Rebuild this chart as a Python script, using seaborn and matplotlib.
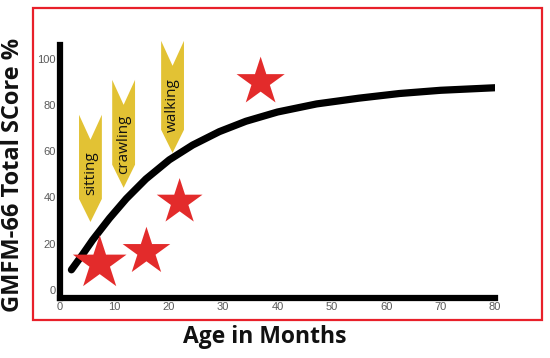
import matplotlib
matplotlib.use("Agg")
import matplotlib.pyplot as plt
import seaborn as sns
import pandas as pd
from matplotlib.patches import Rectangle

# GMFM-66 curve (age in months, score %)
curve_months = [2.1, 4.2, 6.0, 9.1, 12.2, 15.8, 20.1, 24.4, 29.3, 34.2, 40.0, 47.2, 55.0, 62.4, 70.0, 80.0]
curve_score = [8.7, 15.5, 21.6, 31.0, 39.5, 48.0, 56.3, 62.7, 68.5, 73.0, 77.0, 80.5, 83.0, 85.0, 86.4, 87.5]

# red stars
star_months = [7.3, 15.9, 22.0, 36.9]
star_score = [11.5, 16.5, 38.0, 90.0]

# milestone banners: centre month, top and tip value, text centre
milestones = ["sitting", "crawling", "walking"]
milestone_months = [5.6, 11.7, 20.7]
milestone_top = [75.8, 90.9, 107.8]
milestone_tip = [29.4, 44.2, 59.3]
milestone_text_y = [50.6, 63.2, 80.1]

x_ticks = [0, 10, 20, 30, 40, 50, 60, 70, 80]
y_ticks = [0, 20, 40, 60, 80, 100]

sns.set_theme(style="white")
plt.rcParams["font.family"] = ["Open Sans", "DejaVu Sans"]

fig = plt.figure(figsize=(5.5, 3.58), dpi=100)
ax = fig.add_axes([60 / 550, 1 - 298 / 358, 435 / 550, 253 / 358])

yellow = "#e2c234"
red = "#e32b2b"

# banners
half_w, notch, taper = 2.1, 10.8, 10.0
for name, m, top, tip, ty in zip(milestones, milestone_months, milestone_top,
                                 milestone_tip, milestone_text_y):
    xs = [m - half_w, m, m + half_w, m + half_w, m, m - half_w]
    ys = [top, top - notch, top, tip + taper, tip, tip + taper]
    ax.fill(xs, ys, color=yellow, lw=0, clip_on=False, zorder=1)
    ax.text(m, ty, name, rotation=90, ha="center", va="center", fontsize=11,
            color="#111111", zorder=2)

df = pd.DataFrame({"month": curve_months, "score": curve_score})
sns.lineplot(data=df, x="month", y="score", ax=ax, color="black", lw=5.2,
             solid_capstyle="round", solid_joinstyle="round", zorder=3)

sns.scatterplot(x=star_months, y=star_score, ax=ax, marker="*",
                s=[1650, 1300, 1200, 1330], color=red, linewidth=0, zorder=4,
                clip_on=False)

ax.set_xlim(0, 80)
ax.set_ylim(-3.5, 106)
ax.set_xticks(x_ticks)
ax.set_yticks(y_ticks)
ax.set_xticklabels([str(t) for t in x_ticks], family="Liberation Sans",
                   fontsize=8, color="#5a5a5a")
ax.set_yticklabels([str(t) for t in y_ticks], family="Liberation Sans",
                   fontsize=8, color="#5a5a5a")
ax.tick_params(length=0, pad=3)
ax.set_xlabel("")
ax.set_ylabel("")
for s in ["top", "right"]:
    ax.spines[s].set_visible(False)
for s in ["left", "bottom"]:
    ax.spines[s].set_color("black")
    ax.spines[s].set_linewidth(4.5)
ax.patch.set_alpha(0)

fig.text(265 / 550, 1 - 337 / 358, "Age in Months", ha="center", va="center",
         fontsize=16.5, fontweight="bold", color="#111111")
fig.text(13 / 550, 1 - 175 / 358, "GMFM-66 Total SCore %", ha="center",
         va="center", rotation=90, fontsize=17, fontweight="bold", color="#111111")

fig.patches.append(Rectangle((33 / 550, 1 - 320 / 358), 509 / 550, 312 / 358,
                             transform=fig.transFigure, fill=False,
                             edgecolor="#e8202a", lw=1.6, zorder=0))

fig.savefig("out.png", dpi=100)
